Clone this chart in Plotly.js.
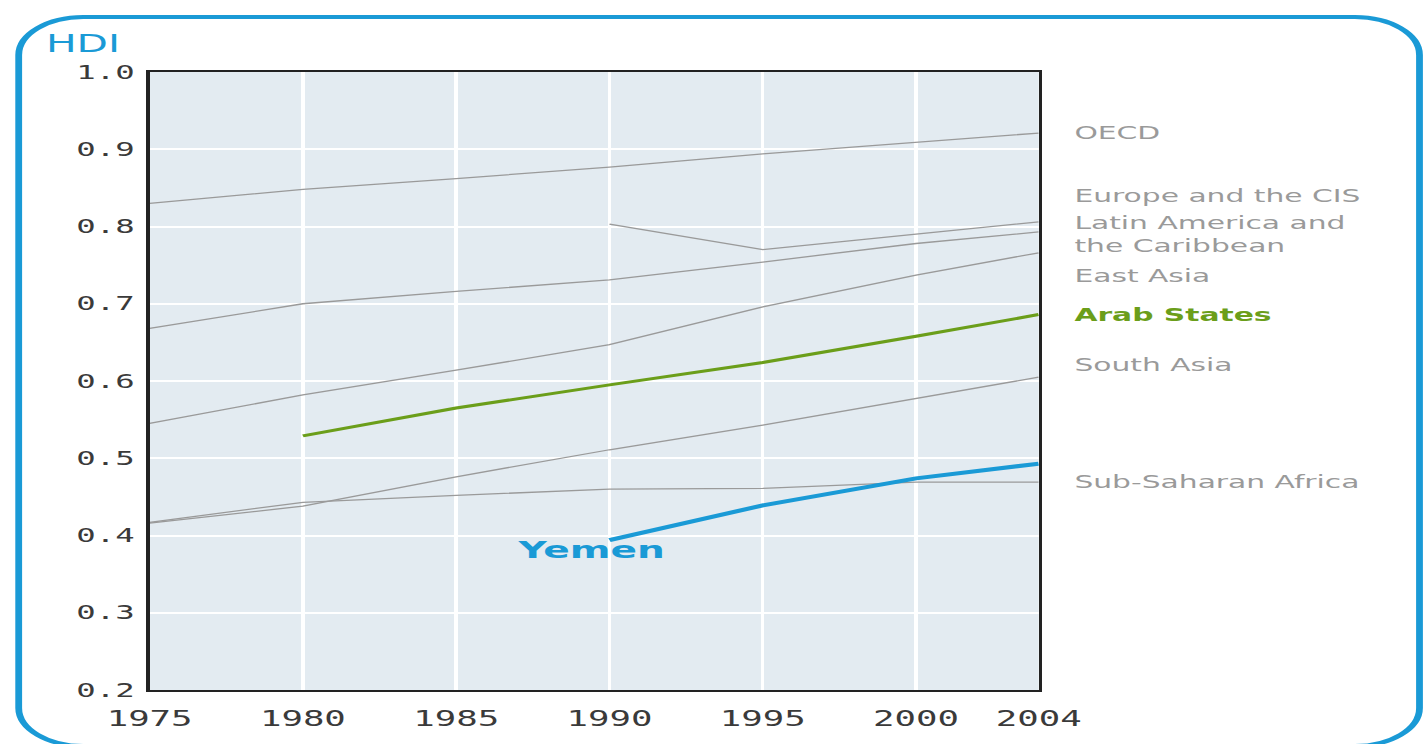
<!DOCTYPE html>
<html>
<head>
<meta charset="utf-8">
<script src="https://cdn.plot.ly/plotly-3.0.1.min.js"></script>
<style>
  html, body { margin: 0; padding: 0; background: #ffffff; overflow: hidden; }
  #stage { position: absolute; left: 0; top: 0; width: 837px; height: 744px;
           transform: scale(1.7, 1); transform-origin: 0 0; }
  #chart { position: absolute; left: 0; top: 0; width: 837px; height: 744px; }
  #frame { position: absolute; left: 9px; top: 15px; width: 828px; height: 733px;
           box-sizing: border-box; border: 4px solid #1a9ad6; border-radius: 40px;
           pointer-events: none; }
</style>
</head>
<body>
<div id="stage">
  <div id="chart"></div>
  <div id="frame"></div>
</div>
<script>
// ---- data ----
var years = [1975, 1980, 1985, 1990, 1995, 2000, 2004];

var oecd         = [0.830, 0.848, 0.862, 0.877, 0.894, 0.909, 0.921];
var europeCIS    = [null,  null,  null,  0.803, 0.770, 0.790, 0.806];
var latinAmerica = [0.668, 0.700, 0.716, 0.731, 0.754, 0.778, 0.793];
var eastAsia     = [0.545, 0.582, 0.614, 0.647, 0.696, 0.737, 0.766];
var arabStates   = [null,  0.529, 0.565, 0.595, 0.624, 0.658, 0.686];
var southAsia    = [0.416, 0.438, 0.476, 0.511, 0.543, 0.578, 0.605];
var subSaharan   = [0.417, 0.443, 0.452, 0.460, 0.461, 0.469, 0.469];
var yemen        = [null,  null,  null,  0.394, 0.439, 0.474, 0.493];

var xTicks = [1975, 1980, 1985, 1990, 1995, 2000, 2004];
var yTicks = [0.2, 0.3, 0.4, 0.5, 0.6, 0.7, 0.8, 0.9, 1.0];
var yTickText = ['0.2', '0.3', '0.4', '0.5', '0.6', '0.7', '0.8', '0.9', '1.0'];

var regionNames = ['OECD', 'Europe and the CIS', 'Latin America and<br>the Caribbean',
                   'East Asia', 'Arab States', 'South Asia', 'Sub-Saharan Africa'];
// ---------------------------------------------

var GRAY = '#9a9a9a', GREEN = '#6b9e1a', BLUE = '#1a9ad6';

function grayLine(vals, name) {
  return { x: years, y: vals, name: name, type: 'scatter', mode: 'lines',
           line: { color: GRAY, width: 1.3 }, hoverinfo: 'x+y+name' };
}

var traces = [
  grayLine(oecd, 'OECD'),
  grayLine(europeCIS, 'Europe and the CIS'),
  grayLine(latinAmerica, 'Latin America and the Caribbean'),
  grayLine(eastAsia, 'East Asia'),
  grayLine(southAsia, 'South Asia'),
  grayLine(subSaharan, 'Sub-Saharan Africa'),
  { x: years, y: arabStates, name: 'Arab States', type: 'scatter', mode: 'lines',
    line: { color: GREEN, width: 3 } },
  { x: years, y: yemen, name: 'Yemen', type: 'scatter', mode: 'lines',
    line: { color: BLUE, width: 4 } }
];

var labelY = [0.921, 0.839, 0.790, 0.736, 0.685, 0.621, 0.469];
var annotations = regionNames.map(function (t, i) {
  var isArab = (t === 'Arab States');
  return { xref: 'paper', yref: 'y', x: 1.037, y: labelY[i], xanchor: 'left', yanchor: 'middle',
           text: isArab ? '<b>' + t + '</b>' : t, showarrow: false, align: 'left',
           font: { family: 'DejaVu Sans, Verdana, sans-serif', size: 17.5, color: isArab ? GREEN : GRAY } };
});
annotations.push({ xref: 'x', yref: 'y', x: 1989.4, y: 0.381, text: '<b>Yemen</b>', showarrow: false,
  xanchor: 'center', yanchor: 'middle',
  font: { family: 'DejaVu Sans, Verdana, sans-serif', size: 23, color: BLUE } });
annotations.push({ xref: 'paper', yref: 'paper', x: -0.1203, y: 1.045, text: 'HDI', showarrow: false,
  xanchor: 'left', yanchor: 'middle',
  font: { family: 'DejaVu Sans, Verdana, sans-serif', size: 24, color: BLUE } });

var layout = {
  width: 837, height: 744,
  margin: { l: 87.6, r: 226.4, t: 72, b: 54, pad: 0 },
  paper_bgcolor: 'rgba(0,0,0,0)',
  plot_bgcolor: '#e3ebf1',
  showlegend: false,
  xaxis: {
    range: [1975, 2004], tickvals: xTicks, ticktext: xTicks.map(String),
    showgrid: true, gridcolor: '#ffffff', gridwidth: 2,
    zeroline: false, showline: true, linecolor: '#222222', linewidth: 2, mirror: true,
    ticks: '', ticklabelstandoff: 9,
    tickfont: { family: 'DejaVu Sans Mono, monospace', size: 21, color: '#3a3a3a' }
  },
  yaxis: {
    range: [0.2, 1.0], tickvals: yTicks, ticktext: yTickText,
    showgrid: true, gridcolor: '#ffffff', gridwidth: 2,
    zeroline: false, showline: true, linecolor: '#222222', linewidth: 2, mirror: true,
    ticks: '', ticklabelstandoff: 3,
    tickfont: { family: 'DejaVu Sans Mono, monospace', size: 19, color: '#3a3a3a' }
  },
  annotations: annotations
};

Plotly.newPlot('chart', traces, layout, { displayModeBar: false, staticPlot: true });
</script>
</body>
</html>
